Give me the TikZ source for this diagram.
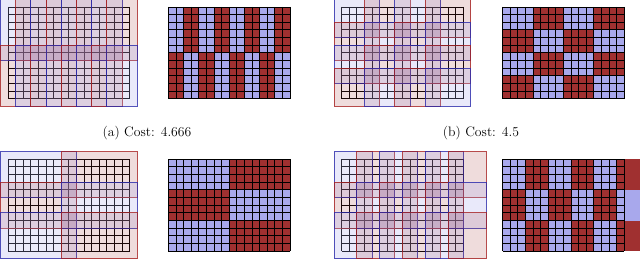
\documentclass[tikz,border=0pt]{standalone}
\definecolor{cR}{RGB}{160,48,48}
\definecolor{cB}{RGB}{168,168,236}
\definecolor{eR}{RGB}{165,30,30}
\definecolor{eB}{RGB}{40,40,170}
\tikzset{
  gl/.style={line width=0.9pt, black},
  tileR/.style={draw=eR, draw opacity=0.8, fill=cR, fill opacity=0.17, line width=0.9pt},
  tileB/.style={draw=eB, draw opacity=0.8, fill=cB, fill opacity=0.25, line width=0.9pt},
  captext/.style={font=\fontsize{13.7}{16}\selectfont, inner sep=0pt}
}
\newcommand\tilepanel[6]{%
 \begin{scope}[shift={(#1,#2)},x=7.6pt,y=-7.65pt]
  \foreach \i in {0,...,16} \draw[gl] (\i,0) -- (\i,12);
  \foreach \j in {0,...,12} \draw[gl] (0,\j) -- (16,\j);
  \pgfmathtruncatemacro\nbxm{#5-1}
  \pgfmathtruncatemacro\nbym{#6-1}
  \foreach \bx in {0,...,\nbxm}{\foreach \by in {0,...,\nbym}{%
    \pgfmathtruncatemacro\pp{mod(\bx+\by,2)}
    \ifnum\pp=0 \def\st{tileB}\else\def\st{tileR}\fi
    \draw[\st] ({\bx*#3-1},{\by*#4-1}) rectangle ({(\bx+1)*#3+1},{(\by+1)*#4+1});
  }}
 \end{scope}}
\newcommand\colorpanel[6]{%
 \begin{scope}[shift={(#1,#2)},x=7.6pt,y=-7.65pt]
  \pgfmathtruncatemacro\nbxm{#5-1}
  \pgfmathtruncatemacro\nbym{#6-1}
  \foreach \bx in {0,...,\nbxm}{\foreach \by in {0,...,\nbym}{%
    \pgfmathtruncatemacro\pp{mod(\bx+\by,2)}
    \ifnum\pp=0 \def\cc{cB}\else\def\cc{cR}\fi
    \fill[\cc] ({\bx*#3},{\by*#4}) rectangle ({(\bx+1)*#3},{(\by+1)*#4});
  }}
  \foreach \i in {0,...,16} \draw[gl] (\i,0) -- (\i,12);
  \foreach \j in {0,...,12} \draw[gl] (0,\j) -- (16,\j);
 \end{scope}}
\begin{document}
\begin{tikzpicture}[x=1pt,y=-1pt]
\useasboundingbox (0,0) rectangle (640,259);
\begin{scope}
\clip (0,0) rectangle (640,259);
% (a)
\tilepanel{8}{7}{2}{6}{8}{2}
\colorpanel{168.4}{7}{2}{6}{8}{2}
% (b)
\tilepanel{341.7}{7}{4}{3}{4}{4}
\colorpanel{502.7}{7}{4}{3}{4}{4}
% (c)
\tilepanel{8}{159.3}{8}{4}{2}{3}
\colorpanel{168.4}{159.3}{8}{4}{2}{3}
% (d)
\tilepanel{341.7}{159.3}{3}{4}{6}{3}
\colorpanel{502.7}{159.3}{3}{4}{6}{3}
\end{scope}
\node[captext] (capa) at (147,133) {(a) Cost: 4.666};
\node[captext] (capb) at (481,133) {(b) Cost: 4.5};
\end{tikzpicture}
\end{document}
